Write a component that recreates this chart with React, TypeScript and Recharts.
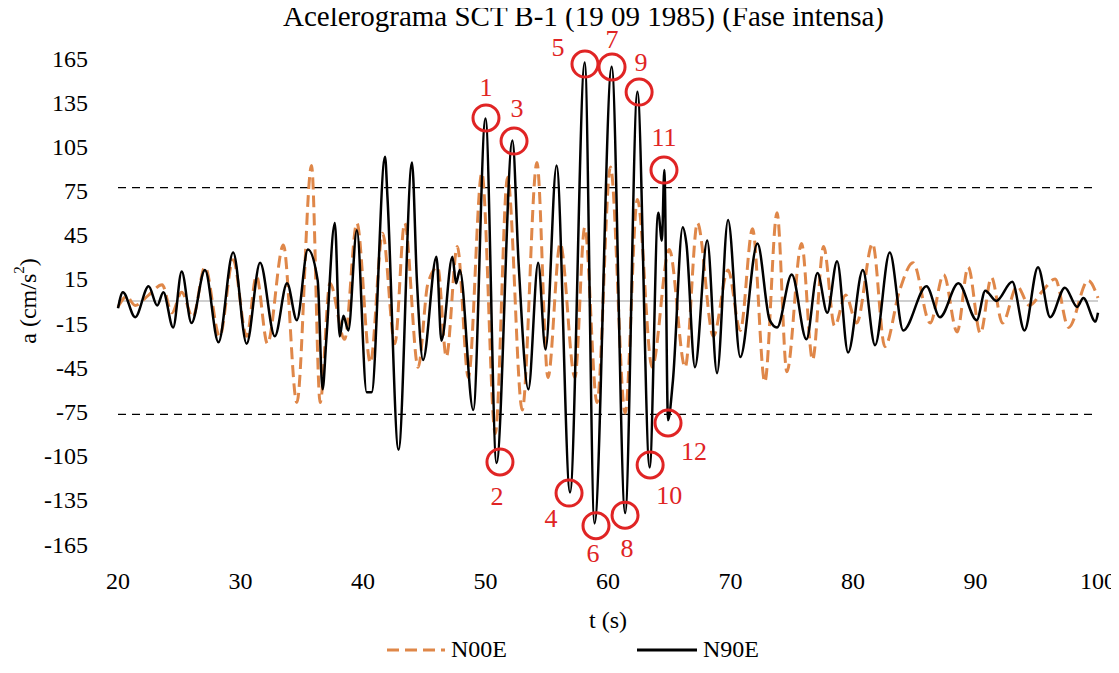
import React from "react";
import { LineChart, Line, XAxis, YAxis, ReferenceLine, ReferenceDot, Legend } from "recharts";

const n90eT = [20,20.4,21.4,22.5,23.2,23.7,24.5,25.2,26,27.1,28.2,29.4,30.5,31.6,32.8,33.8,34.6,35.5,36.3,36.7,37,37.7,38.1,38.4,38.8,39.5,40.3,40.7,41.8,42,42.9,44,44.4,44.9,46,46.4,47.3,47.6,47.9,49,50,50.9,52.2,52.7,53.5,54.3,54.9,55.8,56.9,58.1,58.9,60.3,61.4,62.4,63.4,64.1,64.4,64.6,64.9,65.3,66.1,66.4,67.1,68.1,68.9,69.8,70.8,72.2,73.2,73.8,75,76.2,77.1,77.9,78.7,79.6,80.8,81.8,83,84.1,86,87.1,88.6,90.1,90.8,91.7,93,94,95.1,96.1,97.3,98.3,98.8,99.8,100];
const n90eA = [-5,6,-11,10,-3,6,-18,20,-15,21,-28,33,-29,26,-24,12,-13,35,14,-60,-27,53,-24,-10,-20,48,-62,-62,98,70,-101,94,14,-40,30,-27,30,12,21,-74,124,-110,109,26,-60,26,-33,92,-130,162,-151,159,-144,142,-113,60,41,89,-81,-54,50,39,-45,41,-49,55,-38,39,-13,-18,18,-26,19,-8,27,-35,21,-30,33,-20,10,-11,12,-13,7,0,13,-20,23,-11,9,-4,2,-14,-8];
const n00eT = [20,20.7,21.4,22.5,23.6,24.4,25.2,26.1,27.1,28.3,29.4,30.5,31.3,32.2,33.5,34.6,35.8,36.5,37.3,38.5,39.5,40.6,41.6,42.6,43.4,44.5,45.3,46.1,46.8,47.7,48.6,49.7,50.8,51.8,53,54.2,55.1,56.1,57.3,58.1,59.1,60.2,61.4,62.4,63.6,65,66.3,67.3,68.6,69.8,70.8,71.8,72.8,73.8,74.6,75.8,76.7,77.6,78.5,79.4,80.3,81.6,82.6,83.8,84.9,86.3,87.4,88.5,89.4,90.4,91.3,92.2,93.4,94.4,95.5,96.5,97.6,99.2,100];
const n00eA = [-4,3,-3,4,11,-8,6,-11,23,-24,28,-24,17,-29,38,-69,92,-69,12,-26,53,-42,46,-29,53,-45,12,23,-38,37,-52,87,-90,84,-74,94,-52,39,-52,50,-69,91,-76,69,-45,35,-45,53,-24,21,-20,49,-55,60,-48,39,-40,37,-17,4,-15,39,-31,7,26,-15,18,-21,23,-22,16,-15,10,-3,7,15,-18,14,2];

const markLabels = ["1","2","3","4","5","6","7","8","9","10","11","12"];
const markT = [50.04,51.18,52.33,56.82,58.12,59.02,60.33,61.39,62.54,63.44,64.57,64.9];
const markA = [124.3,-109.3,108.6,-130.4,160.9,-152.6,158.9,-145.4,141.9,-111.3,88.9,-82.8];
const labelDx = [0,-3,3,-18,-27,-3,0,2,2,19,0,26];
const labelDy = [-30,35,-33,25,-17,28,-27,33,-30,31,-33,29];

const yTicks = [-165,-135,-105,-75,-45,-15,15,45,75,105,135,165];
const xTicks = [20,30,40,50,60,70,80,90,100];

const n90e = n90eT.map((t, i) => ({ t, a: n90eA[i] }));
const n00e = n00eT.map((t, i) => ({ t, a: n00eA[i] }));

const FONT = "'Liberation Serif', 'DejaVu Serif', serif";
const ORANGE = "#df8749";
const RED = "#e02424";

const LegendContent = () => (
  <div style={{ display: "flex", justifyContent: "center", gap: 130, fontFamily: FONT, fontSize: 24, marginLeft: 40 }}>
    <div style={{ display: "flex", alignItems: "center", gap: 6 }}>
      <svg width="58" height="10"><line x1="0" y1="5" x2="58" y2="5" stroke={ORANGE} strokeWidth="3" strokeDasharray="12 6" /></svg>
      <span>N00E</span>
    </div>
    <div style={{ display: "flex", alignItems: "center", gap: 6 }}>
      <svg width="60" height="10"><line x1="0" y1="5" x2="60" y2="5" stroke="#000" strokeWidth="3" /></svg>
      <span>N90E</span>
    </div>
  </div>
);

const MarkLabel = (i: number) => (props: any) => {
  const { viewBox } = props;
  const cx = viewBox.x + viewBox.width / 2;
  const cy = viewBox.y + viewBox.height / 2;
  return (
    <text x={cx + labelDx[i]} y={cy + labelDy[i]} textAnchor="middle" dominantBaseline="central" fill={RED} fontFamily={FONT} fontSize={26}>
      {markLabels[i]}
    </text>
  );
};

const YLabel = (props: any) => {
  const { viewBox } = props;
  const x = 20;
  const y = viewBox.y + viewBox.height / 2;
  return (
    <text x={x} y={y} transform={`rotate(-90 ${x} ${y})`} textAnchor="middle" dominantBaseline="central" fontFamily={FONT} fontSize={24} fill="#000">
      a (cm/s<tspan dy={-9} fontSize={15}>2</tspan><tspan dy={9}>)</tspan>
    </text>
  );
};

export default function App() {
  return (
    <div style={{ position: "relative", width: 1111, height: 665, fontFamily: FONT }}>
      <div style={{ position: "absolute", top: -8, left: 0, width: 1111, textAlign: "center", fontSize: 29, lineHeight: "32px", zIndex: 1 }}>
        <span style={{ marginLeft: 40 }}>Acelerograma SCT B-1 (19 09 1985) (Fase intensa)</span>
      </div>
      <LineChart width={1111} height={665} margin={{ top: 50, right: 21, bottom: 0, left: 0 }}>
        <XAxis dataKey="t" type="number" domain={[20, 100]} ticks={xTicks} allowDuplicatedCategory={false}
          axisLine={false} tickLine={false} tickMargin={22} height={92}
          tick={{ fill: "#000", fontSize: 24, fontFamily: FONT }}
          label={{ value: "t (s)", position: "insideBottom", offset: 8, fill: "#000", fontSize: 24, fontFamily: FONT }} />
        <YAxis type="number" domain={[-165, 165]} ticks={yTicks} axisLine={false} tickLine={false} width={110} tickSize={0} tickMargin={30}
          tick={{ fill: "#000", fontSize: 24, fontFamily: FONT }}
          label={<YLabel />} />
        <Legend verticalAlign="bottom" height={37} content={<LegendContent />} />
        <ReferenceLine y={0} stroke="#cfcfcf" strokeWidth={2} />
        <ReferenceLine y={77} stroke="#000" strokeDasharray="8 6" strokeWidth={1.3} />
        <ReferenceLine y={-77} stroke="#000" strokeDasharray="8 6" strokeWidth={1.3} />
        <Line data={n00e} dataKey="a" type="monotone" stroke={ORANGE} strokeWidth={3} strokeDasharray="12 6" dot={false} isAnimationActive={false} />
        <Line data={n90e} dataKey="a" type="monotone" stroke="#000" strokeWidth={2.5} dot={false} isAnimationActive={false} />
        {markT.map((t, i) => (
          <ReferenceDot key={i} x={t} y={markA[i]} r={13} fill="none" stroke={RED} strokeWidth={3} label={MarkLabel(i)} />
        ))}
      </LineChart>
    </div>
  );
}
